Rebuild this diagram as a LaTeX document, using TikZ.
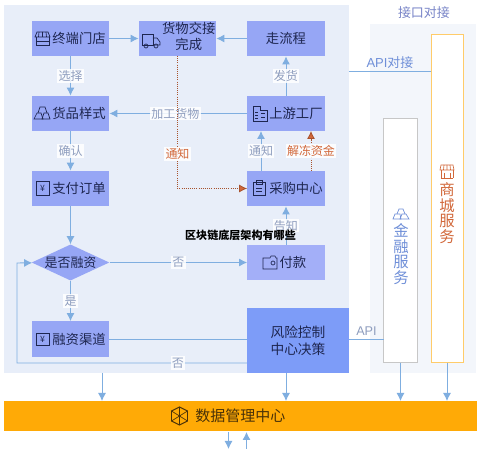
\documentclass[tikz,border=0pt]{standalone}
\usepackage{fontspec}
\setmainfont{Noto Sans CJK SC}
\newfontfamily\latinf{Liberation Sans}
\usetikzlibrary{arrows.meta,shapes.geometric}
\definecolor{panelA}{HTML}{E8EEF9}
\definecolor{panelB}{HTML}{F3F6FB}
\definecolor{boxA}{HTML}{96A6F5}
\definecolor{boxB}{HTML}{A3AFF8}
\definecolor{boxC}{HTML}{7D9CF8}
\definecolor{lineA}{HTML}{7FAEE0}
\definecolor{lab}{HTML}{8E9DBE}
\definecolor{ora}{HTML}{D2683A}
\definecolor{ink}{HTML}{1E2650}
\definecolor{gold}{HTML}{FFAA06}
\definecolor{darkgold}{HTML}{4A3208}
\definecolor{bluet}{HTML}{6F8FD8}
\tikzset{
 x=0.75pt,y=-0.75pt,
 bx/.style={fill=boxA,minimum width=58pt,minimum height=26.5pt,inner sep=0pt,text=ink,font=\fontsize{10}{11.5}\selectfont,align=center},
 ar/.style={draw=lineA,line width=0.7pt,-{Latex[length=6pt,width=6pt]}},
 ln/.style={draw=lineA,line width=0.7pt},
 dt/.style={draw=ora!80!black,line width=0.6pt,densely dotted,-{Latex[length=6pt,width=6pt,fill=ora]}},
 lb/.style={fill=white,fill opacity=0.85,text opacity=1,text=lab,inner sep=1pt,font=\fontsize{9}{10}\selectfont},
 lo/.style={lb,text=ora},
 ic/.style={draw=ink,line width=0.5pt,fill=none},
}
\begin{document}
\begin{tikzpicture}
\useasboundingbox (0,0) rectangle (480,449);
\fill[white] (0,0) rectangle (480,449);
\fill[panelA] (4,5) rectangle (349,373);
\fill[panelB] (370,24) rectangle (476,373);
% boxes
\node[bx] (a) at (70.5,38.5) {\hspace{12.8pt}终端门店};
\node[bx] (b) at (177.5,38.5) {\hspace{17pt}\begin{tabular}{@{}c@{}}货物交接\\完成\end{tabular}};
\node[bx] (c) at (286,38.5) {走流程};
\node[bx] (d) at (70.5,113.5) {\hspace{12.8pt}货品样式};
\node[bx] (e) at (286,113.5) {\hspace{15pt}上游工厂};
\node[bx] (f) at (70.5,188.5) {\hspace{12.8pt}支付订单};
\node[bx] (g) at (286,188.5) {\hspace{15pt}采购中心};
\node[diamond,fill=boxA,minimum width=56.5pt,minimum height=26.5pt,inner sep=0pt,aspect=2.15,text=ink,font=\fontsize{9.75}{11}\selectfont] (h) at (70.5,262.5) {是否融资};
\node[bx,fill=boxB] (i) at (286,262.5) {\hspace{10.5pt}付款};
\node[bx] (j) at (70.5,339) {\hspace{12.8pt}融资渠道};
\node[bx,fill=boxC,minimum width=76.5pt,minimum height=49pt,font=\fontsize{10.3}{13}\selectfont] (k) at (298,340.5) {风险控制\\中心决策};
\node[draw=black!22,fill=white,line width=0.5pt,minimum width=25pt,minimum height=183.5pt,inner sep=0pt] (m) at (400.5,240.5) {};
\node[draw=gold!60!white,fill=white,line width=0.5pt,minimum width=24pt,minimum height=246.5pt,inner sep=0pt] (n) at (447,198.5) {};
\node[fill=gold,minimum width=355pt,minimum height=22.5pt,inner sep=0pt,text=darkgold,font=\fontsize{11.25}{12}\selectfont] (o) at (240.5,416) {数据管理中心\hspace{7pt}};
\node[font=\fontsize{9.75}{10}\selectfont,text=lab!85!blue,inner sep=0pt] (t0) at (424,12.5) {接口对接};
\node[text=ora,font=\fontsize{11.5}{11.6}\selectfont,align=center,inner sep=0pt] (t1) at (447,213) {商\\城\\服\\务};
\node[text=bluet,font=\fontsize{11.5}{11.6}\selectfont,align=center,inner sep=0pt] (t2) at (401,254) {金\\融\\服\\务};
% connectors
\draw[ar] (a) -- (b);
\draw[ar] (c) -- (b);
\draw[ar] (a) -- node[lb]{选择} (d);
\draw[ar] (d) -- node[lb]{确认} (f);
\draw[ar] (e) -- node[lb]{发货} (c);
\draw[ar] (e) -- node[lb,pos=.52]{加工货物} (d);
\draw[ar] (f) -- (h);
\draw[ar] (h) -- node[lb,pos=.5]{否} (i);
\draw[ar] (h) -- node[lb]{是} (j);
\draw[ar] (i) -- node[lb]{告知} (g);
\coordinate (g1) at (261,171); \coordinate (e1) at (261,131);
\draw[ar] (g1) -- node[lb]{通知} (e1);
\coordinate (g2) at (311,171); \coordinate (e2) at (311,131);
\draw[dt] (g2) -- node[lo]{解冻资金} (e2);
\coordinate (b1) at (177.5,56); \coordinate (gc) at (177.5,188.5);
\draw[dt] (b1) -- node[lo,pos=.74]{通知} (gc) -- (g);
\coordinate (jk) at (247,339);
\draw[ln] (j.east) -- (jk);
\coordinate (k1) at (247,363); \coordinate (c1) at (17,363); \coordinate (c2) at (17,263);
\draw[ar] (k1) -- node[lb,pos=.3]{否} (c1) -- (c2) -- (h);
\coordinate (ka) at (349,339); \coordinate (ma) at (384,339);
\draw[ln] (ka) -- node[text=lab,font=\latinf\fontsize{9.5}{10}\selectfont,above,inner sep=2pt]{API} (ma);
\coordinate (api) at (349,71); \coordinate (napi) at (431,71);
\draw[ln] (api) -- node[text=bluet,font=\fontsize{9.75}{10}\selectfont,above,inner sep=1.5pt,pos=.5]{{\latinf API}对接} (napi);
\coordinate (p1) at (102,373); \coordinate (q1) at (102,401);
\draw[ar] (p1) -- (q1);
\coordinate (p2) at (286,373); \coordinate (q2) at (286,401);
\draw[ar] (p2) -- (q2);
\coordinate (p3) at (400.5,363); \coordinate (q3) at (400.5,401);
\draw[ar] (p3) -- (q3);
\coordinate (p4) at (447,363); \coordinate (q4) at (447,401);
\draw[ar] (p4) -- (q4);
\coordinate (p5) at (228.5,432); \coordinate (q5) at (228.5,449);
\draw[ar] (p5) -- (q5);
\coordinate (p6) at (246.5,449); \coordinate (q6) at (246.5,432);
\draw[ar] (p6) -- (q6);
% icons
\begin{scope}[ic]
% store
\draw (35,37) -- (37,32) -- (48,32) -- (50,37) -- cycle;
\draw (39,32)--(38.5,37) (42.5,32)--(42.5,37) (46,32)--(46.5,37);
\draw (36,37) -- (36,45) -- (49,45) -- (49,37);
\draw (36,41) -- (49,41);
% truck
\draw (142,34) rectangle (153,45); \draw (153,38) -- (157,38) -- (160,42) -- (160,45) -- (153,45);
\draw (146,46) circle (2); \draw (156,46) circle (2);
% gold
\draw (34,119) -- (37,113) -- (41,113) -- (43,119) -- cycle;
\draw (42,119) -- (44,113) -- (48,113) -- (50,119) -- cycle;
\draw (38,113) -- (40,107) -- (45,107) -- (47,113);
% yen
\draw (36,181) rectangle (49,195);
\node[draw=none,font=\fontsize{6.5}{6}\selectfont,inner sep=0pt,text=ink] (y1) at (42.5,188) {¥};
% factory
\draw (253,110) -- (253,121) -- (267,121) -- (267,110) -- (260,110) -- (260,106) -- (253,106) -- (253,110);
\draw (255,112) -- (258,112) (255,115) -- (258,115) (255,118) -- (258,118) (261,113) -- (265,113) (261,117) -- (265,117);
% clipboard
\draw (253,182) rectangle (265,195); \draw (256,180) rectangle (262,184);
\draw (256,188) -- (262,188) (256,191.5) -- (262,191.5);
% wallet
\draw (263,258) -- (270,258) -- (271,256) -- (275,256) -- (276,258) -- (277,258) -- (277,269) -- (263,269) -- cycle;
\draw (273,263) circle (2);
% yen 2
\draw (36,333) rectangle (49,345);
\node[draw=none,font=\fontsize{6.5}{6}\selectfont,inner sep=0pt,text=ink] (y2) at (42.5,339) {¥};
% hexagon
\draw[darkgold,line width=0.7pt] (171.5,411) -- (179.5,407) -- (187.5,411) -- (187.5,421) -- (179.5,425) -- (171.5,421) -- cycle;
\draw[darkgold] (171.5,411) -- (187.5,421) (187.5,411) -- (171.5,421) (179.5,407) -- (179.5,425);
% finance icon
\draw[bluet] (393,219) -- (395,214) -- (400,214) -- (401,219) -- cycle;
\draw[bluet] (400,219) -- (402,214) -- (406,214) -- (409,219) -- cycle;
\draw[bluet] (397,214) -- (399,209) -- (403,209) -- (405,214);
% mall icon
\draw[ora] (440,170) -- (441,165) -- (453,165) -- (454,170) -- cycle;
\draw[ora] (444,165)--(443.5,170) (447,165)--(447,170) (450,165)--(450.5,170);
\draw[ora] (441,170) -- (441,178) (453,170) -- (453,178);
\draw[ora] (441,178) -- (453,178);
\draw[ora] (444,173) -- (444,178) (450,173) -- (450,178);
\end{scope}
% overlay text
\node[text=black,inner sep=0pt,font=\fontsize{8.3}{10}\selectfont\bfseries] (w) at (240.5,235.5) {区块链底层架构有哪些};
\end{tikzpicture}
\end{document}
